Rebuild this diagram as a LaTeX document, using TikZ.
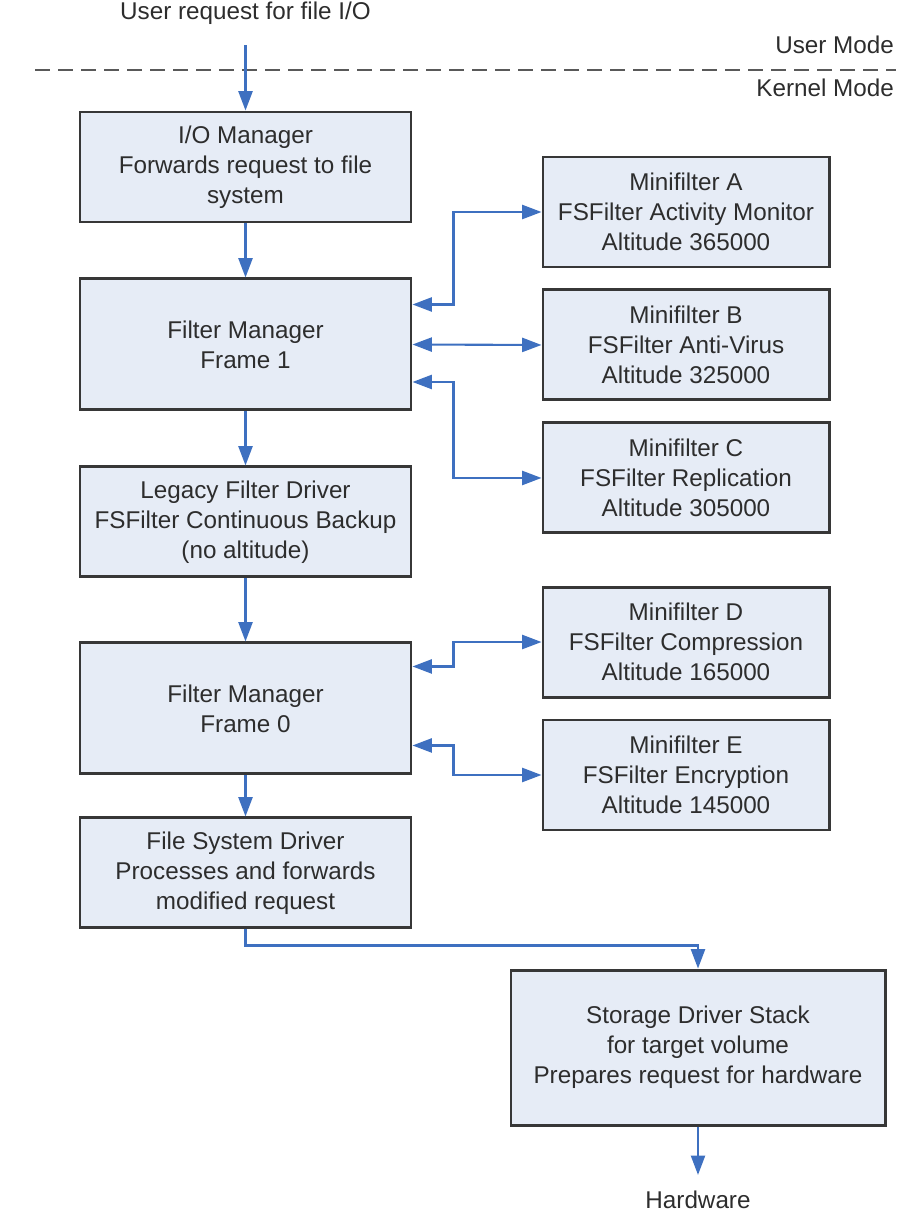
\documentclass[tikz,border=0pt]{standalone}
\usepackage{fontspec}
\setmainfont{Liberation Sans}
\usetikzlibrary{positioning, arrows.meta}

\definecolor{boxfill}{RGB}{230,236,246}
\definecolor{boxline}{RGB}{55,55,55}
\definecolor{flow}{RGB}{62,112,192}
\definecolor{txt}{RGB}{45,45,45}

\begin{document}
\begin{tikzpicture}[>={Triangle[length=11pt,width=8pt]}, node distance=1.08cm,
  every node/.style={text=txt, font=\fontsize{13.8}{17}\selectfont},
  block/.style={draw=boxline, line width=1.7pt, fill=boxfill, align=center,
    minimum width=6.62cm, minimum height=2.2cm, inner sep=2pt},
  tall/.style={block, minimum height=2.62cm},
  mini/.style={block, minimum width=5.72cm},
  flowline/.style={draw=flow, line width=1.2pt},
  modeline/.style={draw=black!65, line width=1.4pt, dash pattern=on 0.3cm off 0.16cm}]
\useasboundingbox (0,0) rectangle (17.92,-24.3);

% user / kernel boundary
  \node (req) at (4.91,-0.26) {User request for file I/O};
  \node[anchor=east, inner xsep=1pt] (um) at (17.92,-0.9) {User Mode};
  \node[anchor=east, inner xsep=1pt] (km) at (17.92,-1.76) {Kernel Mode};
  \coordinate (modeL) at (0.7,-1.4);
  \coordinate (modeR) at (17.92,-1.4);
  \coordinate (reqOut) at (4.91,-0.9);
  \draw[modeline] (modeL) -- (modeR);

% main stack
  \node[block] (iom) at (4.91,-3.34) {I/O Manager\\Forwards request to file\\system};
  \node[tall]  (fm1) [below=of iom] {Filter Manager\\Frame 1};
  \node[block] (lfd) [below=of fm1] {Legacy Filter Driver\\FSFilter Continuous Backup\\(no altitude)};
  \node[tall]  (fm0) [below=1.26cm of lfd] {Filter Manager\\Frame 0};
  \node[block] (fsd) [below=0.82cm of fm0] {File System Driver\\Processes and forwards\\modified request};
  \node[block, minimum width=7.48cm, minimum height=3.1cm] (sto) at (13.96,-20.95)
    {Storage Driver Stack\\for target volume\\Prepares request for hardware};
  \node (hw) at (13.96,-24.0) {Hardware};

% minifilters
  \node[mini] (mfA) at (13.72,-4.24) {Minifilter A\\FSFilter Activity Monitor\\Altitude 365000};
  \node[mini] (mfB) [below=0.4cm of mfA] {Minifilter B\\FSFilter Anti-Virus\\Altitude 325000};
  \node[mini] (mfC) [below=0.4cm of mfB] {Minifilter C\\FSFilter Replication\\Altitude 305000};
  \node[mini] (mfD) at (13.72,-12.84) {Minifilter D\\FSFilter Compression\\Altitude 165000};
  \node[mini] (mfE) [below=0.4cm of mfD] {Minifilter E\\FSFilter Encryption\\Altitude 145000};

% define the links
  \path[->, every edge/.append style={flowline}]
        (reqOut) edge (iom)
        (iom) edge (fm1)
        (fm1) edge (lfd)
        (lfd) edge (fm0)
        (fm0) edge (fsd)
        (sto) edge [shorten >=2mm] (hw);
  \draw[flowline, ->] (fsd.south) -- ++(0,-0.32) -| (sto.north);

  \draw[flowline, <->] ([yshift=8mm]fm1.east) -- ++(0.82,0) |- (mfA.west);
  \draw[flowline, <->] (fm1.east) -- (mfB.west);
  \draw[flowline, <->] ([yshift=-7.5mm]fm1.east) -- ++(0.82,0) |- (mfC.west);
  \draw[flowline, <->] ([yshift=8.4mm]fm0.east) -- ++(0.82,0) |- (mfD.west);
  \draw[flowline, <->] ([yshift=-7.4mm]fm0.east) -- ++(0.82,0) |- (mfE.west);
\end{tikzpicture}
\end{document}
